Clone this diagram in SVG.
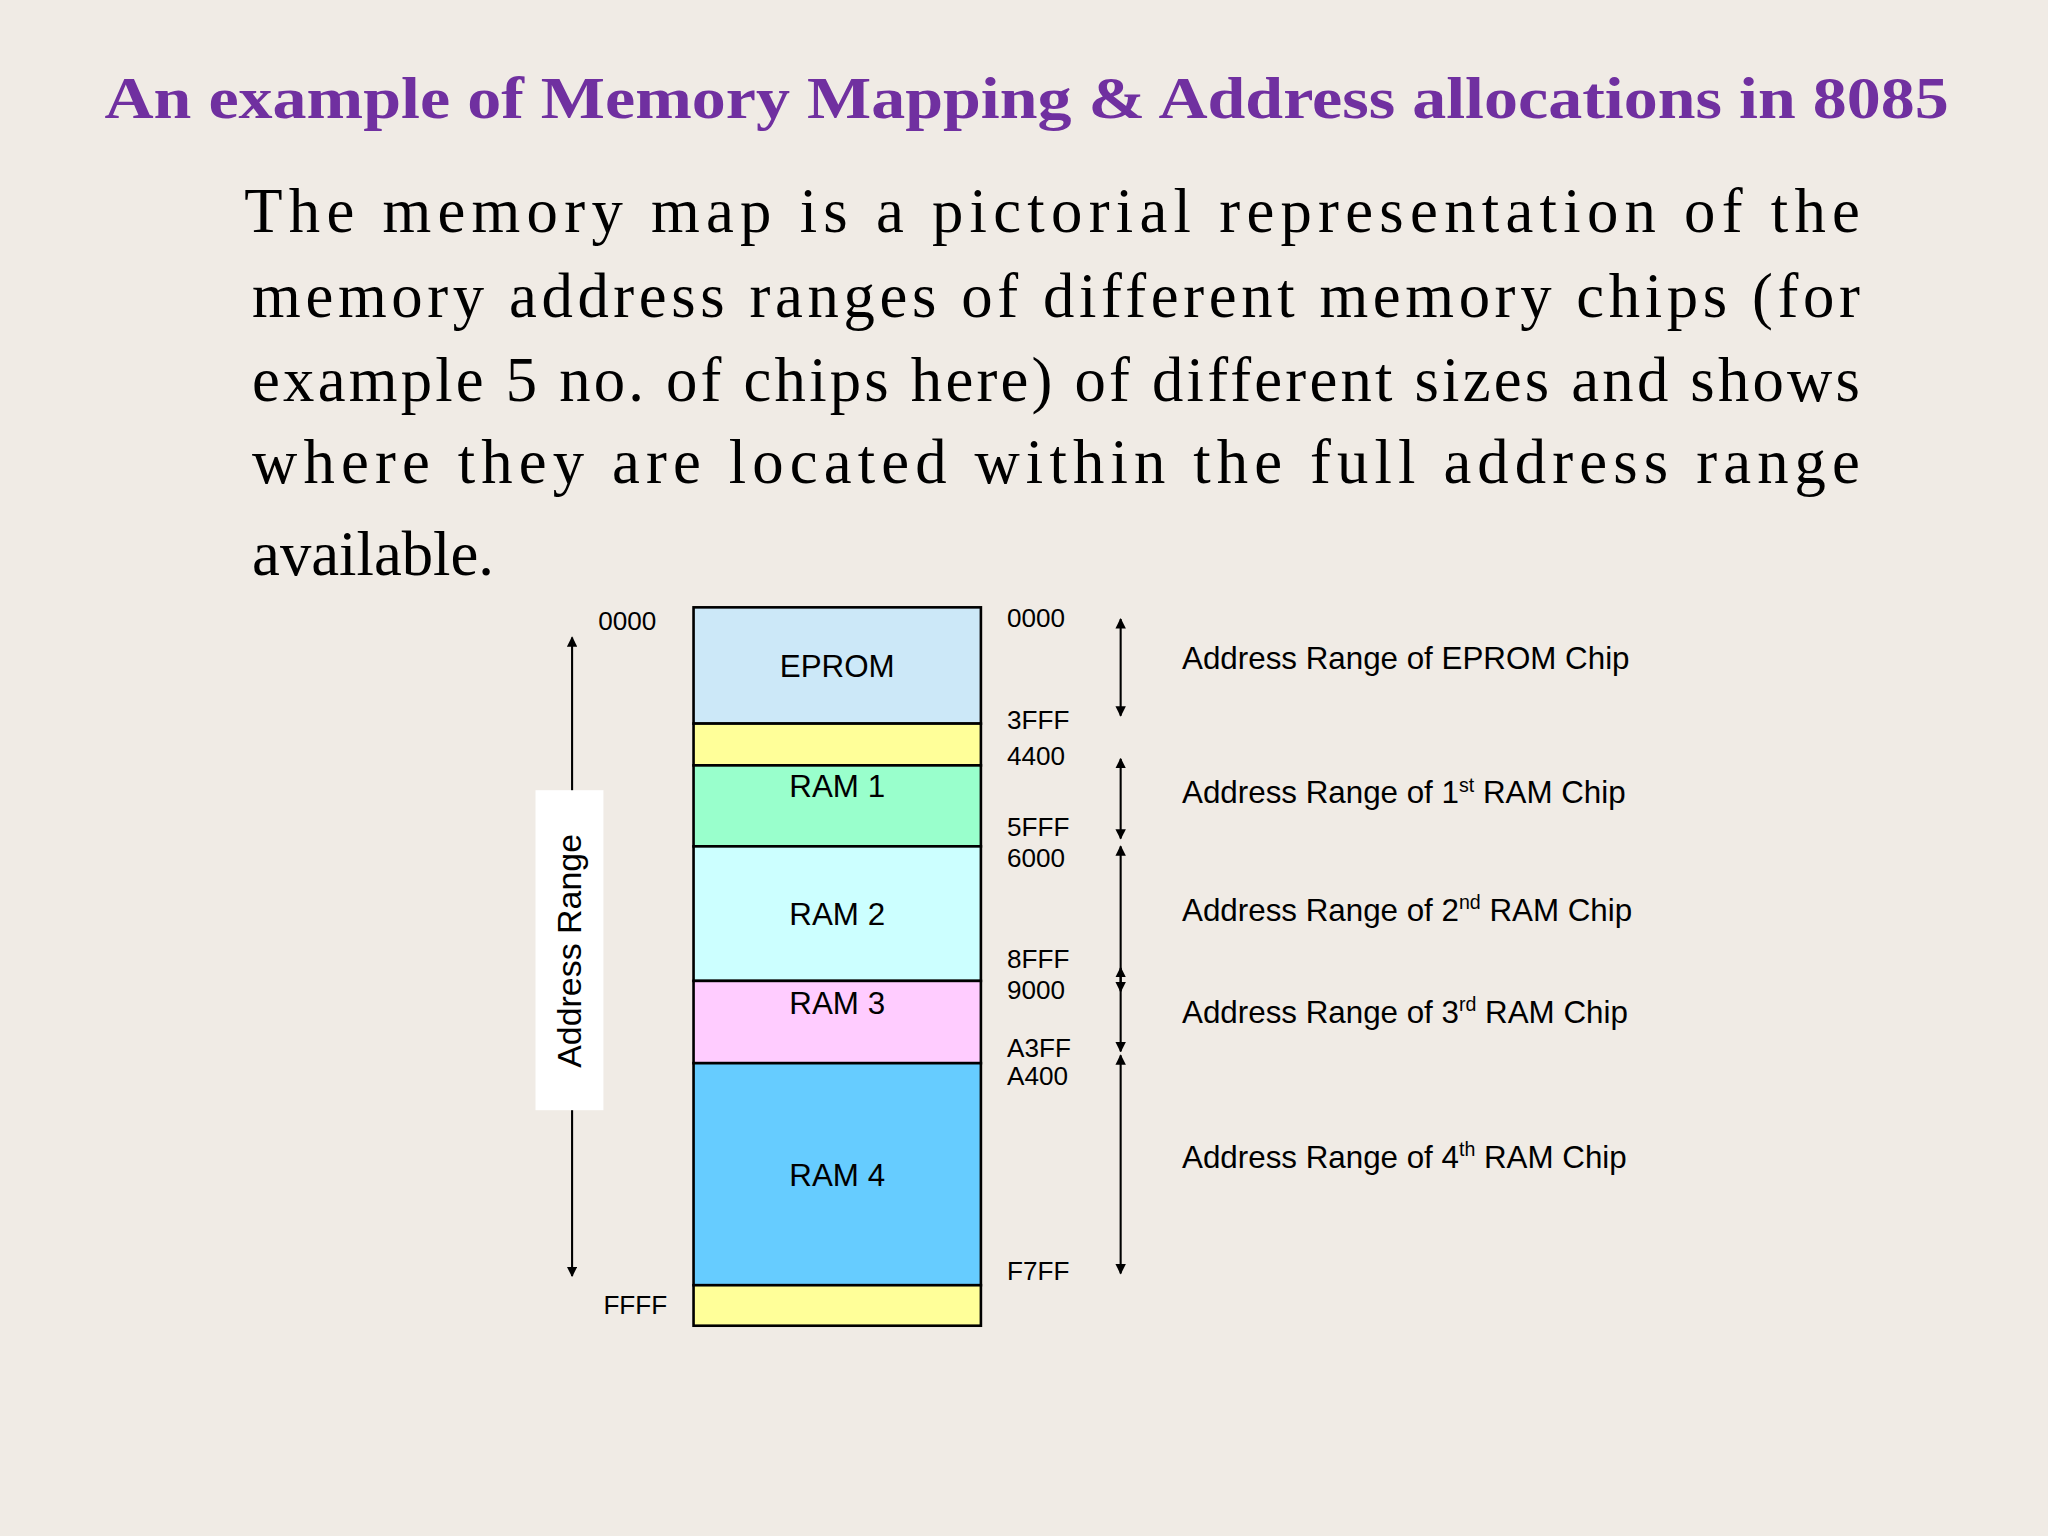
<svg xmlns="http://www.w3.org/2000/svg" width="2048" height="1536" viewBox="0 0 2048 1536">
<defs>
<marker id="ah" viewBox="0 0 10 10" refX="9" refY="5" markerWidth="8" markerHeight="8" orient="auto-start-reverse" markerUnits="userSpaceOnUse"><path d="M0,0 L10,5 L0,10 z" fill="#000"/></marker>
<style>
.t{font-family:"Liberation Serif",serif;font-size:48px;fill:#000}
.s{font-family:"Liberation Sans",Arial,sans-serif;fill:#000}
.a{font-size:20px}
.b{font-size:24px;text-anchor:middle}
.l{font-size:24px}
.blk{stroke:#000;stroke-width:2}
.ar{stroke:#000;stroke-width:1.6;fill:none;marker-start:url(#ah);marker-end:url(#ah)}
</style>
</defs>
<rect width="2048" height="1536" fill="#f0ebe5"/>
<g transform="scale(1.30612)">
<g id="title"><text x="80" y="90" font-family="Liberation Serif,serif" font-weight="bold" font-size="46" fill="#7030a0" textLength="1412" lengthAdjust="spacingAndGlyphs">An example of Memory Mapping &amp; Address allocations in 8085</text></g>
<g id="body">
<text class="t" x="187" y="178" textLength="1237" lengthAdjust="spacing">The memory map is a pictorial representation of the</text>
<text class="t" x="193" y="243" textLength="1231" lengthAdjust="spacing">memory address ranges of different memory chips (for</text>
<text class="t" x="193" y="307" textLength="1231" lengthAdjust="spacing">example 5 no. of chips here) of different sizes and shows</text>
<text class="t" x="193" y="370" textLength="1231" lengthAdjust="spacing">where they are located within the full address range</text>
<text class="t" x="193" y="440">available.</text>
</g>
<g id="eprom"><rect class="blk" x="531" y="465" width="220" height="89" fill="#cce8f8"/><text class="s b" x="641" y="518">EPROM</text></g>
<g id="gap1"><rect class="blk" x="531" y="554" width="220" height="32" fill="#ffff99"/></g>
<g id="ram1"><rect class="blk" x="531" y="586" width="220" height="62" fill="#99ffcc"/><text class="s b" x="641" y="610">RAM 1</text></g>
<g id="ram2"><rect class="blk" x="531" y="648" width="220" height="103" fill="#ccffff"/><text class="s b" x="641" y="708">RAM 2</text></g>
<g id="ram3"><rect class="blk" x="531" y="751" width="220" height="63" fill="#ffccff"/><text class="s b" x="641" y="776">RAM 3</text></g>
<g id="ram4"><rect class="blk" x="531" y="814" width="220" height="170" fill="#66ccff"/><text class="s b" x="641" y="908">RAM 4</text></g>
<g id="gap2"><rect class="blk" x="531" y="984" width="220" height="31" fill="#ffff99"/></g>
<g id="connectors">
<line class="ar" x1="438" y1="488" x2="438" y2="977"/>
<line class="ar" x1="858" y1="474" x2="858" y2="548"/>
<line class="ar" x1="858" y1="581" x2="858" y2="642"/>
<line class="ar" x1="858" y1="648" x2="858" y2="759"/>
<line class="ar" x1="858" y1="741" x2="858" y2="805"/>
<line class="ar" x1="858" y1="808" x2="858" y2="975"/>
</g>
<g id="addrlabel"><rect x="410" y="605" width="52" height="245" fill="#fff"/><text class="s" font-size="26" text-anchor="middle" transform="translate(445,728) rotate(-90)">Address Range</text></g>
<g id="addresses" class="s a">
<text class="s a" x="458" y="482">0000</text>
<text class="s a" x="462" y="1006">FFFF</text>
<text class="s a" x="771" y="480">0000</text>
<text class="s a" x="771" y="558">3FFF</text>
<text class="s a" x="771" y="586">4400</text>
<text class="s a" x="771" y="640">5FFF</text>
<text class="s a" x="771" y="664">6000</text>
<text class="s a" x="771" y="741">8FFF</text>
<text class="s a" x="771" y="765">9000</text>
<text class="s a" x="771" y="809">A3FF</text>
<text class="s a" x="771" y="831">A400</text>
<text class="s a" x="771" y="980">F7FF</text>
</g>
<g id="ranges">
<text class="s l" x="905" y="512">Address Range of EPROM Chip</text>
<text class="s l" x="905" y="615">Address Range of 1<tspan font-size="15" dy="-9">st</tspan><tspan dy="9"> RAM Chip</tspan></text>
<text class="s l" x="905" y="705">Address Range of 2<tspan font-size="15" dy="-9">nd</tspan><tspan dy="9">  RAM Chip</tspan></text>
<text class="s l" x="905" y="783">Address Range of 3<tspan font-size="15" dy="-9">rd</tspan><tspan dy="9">  RAM Chip</tspan></text>
<text class="s l" x="905" y="894">Address Range of 4<tspan font-size="15" dy="-9">th</tspan><tspan dy="9">  RAM Chip</tspan></text>
</g>
</g>
</svg>
